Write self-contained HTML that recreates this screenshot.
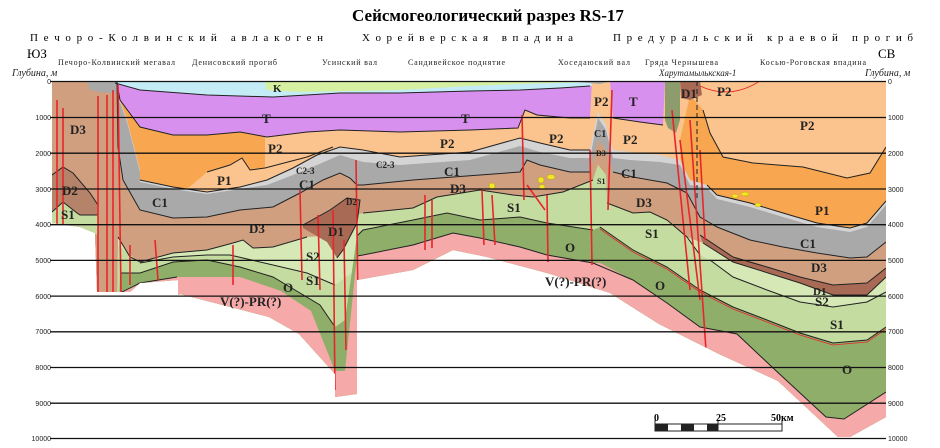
<!DOCTYPE html>
<html><head><meta charset="utf-8"><style>
html,body{margin:0;padding:0;background:#fff}
svg{display:block}
.s{font-family:"Liberation Serif",serif}
.lb{font-family:"Liberation Serif",serif;font-weight:bold;font-size:13px;fill:#222}
.tk{font-family:"Liberation Sans",sans-serif;font-size:7px;fill:#222}
.pre{white-space:pre}
</style></head><body>
<svg width="940" height="448" viewBox="0 0 940 448" xmlns="http://www.w3.org/2000/svg">
<defs>
<clipPath id="sec"><polygon points="52,81 886,81 886,417 850,437 838,437 778,381 719,354 659,324 610,293 547,273 487,257 453,250 413,270 357,280 357,394 335,397 335,374 299,334 269,317 180,294 178,295 178,280 140,283 130,292 97,292 95,233 80,227 52,223"/></clipPath>
</defs>
<text class="s" x="488" y="21" font-size="17" font-weight="bold" text-anchor="middle">Сейсмогеологический разрез RS-17</text>
<text class="s pre" x="30" y="41" font-size="11" textLength="293" lengthAdjust="spacing">П е ч о р о - К о л в и н с к и й   а в л а к о г е н</text>
<text class="s pre" x="362" y="41" font-size="11" textLength="211" lengthAdjust="spacing">Х о р е й в е р с к а я   в п а д и н а</text>
<text class="s pre" x="613" y="41" font-size="11" textLength="300" lengthAdjust="spacing">П р е д у р а л ь с к и й   к р а е в о й   п р о г и б</text>
<text class="s" x="27" y="58" font-size="13">ЮЗ</text>
<text class="s" x="878" y="58" font-size="13">СВ</text>
<g class="s" font-size="8" fill="#222">
<text x="58" y="65" textLength="117">Печоро-Колвинский мегавал</text>
<text x="192" y="65" textLength="85">Денисовский прогиб</text>
<text x="322" y="65" textLength="55">Усинский вал</text>
<text x="408" y="65" textLength="97">Сандивейское поднятие</text>
<text x="558" y="65" textLength="72">Хоседаюский вал</text>
<text x="645" y="65" textLength="73">Гряда Чернышева</text>
<text x="760" y="65" textLength="106">Косью-Роговская впадина</text>
<text x="12" y="76" font-style="italic" font-size="10">Глубина, м</text>
<text x="865" y="76" font-style="italic" font-size="10">Глубина, м</text>
<text x="659" y="76" font-style="italic" font-size="9">Харутамылькская-1</text>
</g>
<g clip-path="url(#sec)">
<rect x="52" y="81" width="834" height="367" fill="#d4f0a0"/>
<polygon fill="#c4ecf7" points="52,81 265,81 266,90 300,92 400,90 470,86 520,84 590,82 886,81 886,448 52,448"/>
<polygon fill="#d890ee" points="52,81 115,83 140,90 207,95 273,97 340,93 400,93 470,91 520,90 560,88 590,86 612,81 886,81 886,448 52,448"/>
<polygon fill="#fbc38d" points="52,81 117,83 120,100 140,127 173,135 207,135 240,132 267,137 307,132 340,130 400,132 470,130 518,128 525,110 537,115 570,118 590,118 592,81 610,81 613,118 640,122 663,125 665,81 886,81 886,448 52,448"/>
<polygon fill="#f8a750" points="120,100 140,127 173,135 207,135 240,132 265,136 265,168 250,170 242,158 230,165 207,172 180,195 140,195"/>
<polygon fill="#f8a750" points="690,95 703,110 710,133 723,157 753,163 803,167 847,178 870,173 886,147 886,448 690,448 680,140"/>
<polygon fill="#d4d4d4" points="52,81 120,100 127,120 140,170 140,180 173,187 207,192 240,187 267,180 293,168 317,155 340,147 363,150 400,157 470,152 520,138 540,143 570,150 590,150 598,112 606,125 613,150 630,152 660,155 680,160 690,180 707,185 717,195 750,203 783,213 817,223 850,228 867,223 886,201 886,448 52,448"/>
<polygon fill="#a9a9a9" points="52,81 120,102 127,122 140,172 140,182 173,189 207,194 240,189 267,185 293,175 317,165 340,155 363,162 400,165 470,160 520,146 540,152 570,158 590,158 598,118 606,130 613,158 630,160 660,162 680,165 690,185 707,188 717,199 750,207 783,217 817,227 850,232 867,227 886,205 886,448 52,448"/>
<polygon fill="#cf9f80" points="52,81 117,81 118,147 123,180 140,210 173,218 207,217 240,210 273,207 300,193 323,180 340,173 350,178 357,185 363,185 413,180 480,175 520,172 527,160 540,165 570,172 590,172 598,140 606,150 613,172 633,177 667,183 687,193 700,217 717,227 750,240 783,247 817,253 850,258 867,257 886,242 886,448 52,448"/>
<polygon fill="#a9a9a9" points="87,81 117,81 116,93 100,92 90,90"/>
<polygon fill="#d5e8b5" points="52,400 116,400 118,237 130,257 140,262 173,253 207,250 233,243 243,240 253,248 273,247 307,237 335,235 357,215 363,213 413,208 437,197 480,190 513,195 533,197 563,192 593,180 598,165 606,175 607,203 633,213 650,212 667,220 687,237 703,243 733,262 800,283 833,295 867,295 886,277 886,448 52,448"/>
<polygon fill="#c5dca0" points="52,400 116,400 118,245 140,263 173,257 207,255 230,255 273,265 307,273 335,285 356,270 357,215 363,213 413,208 437,197 480,190 513,195 533,197 563,192 593,180 598,165 606,175 607,203 633,213 650,212 667,220 687,237 700,255 710,260 733,277 767,290 800,302 833,307 867,302 886,292 886,448 52,448"/>
<polygon fill="#8fae6a" points="52,400 116,400 120,273 140,273 173,262 207,260 240,267 273,277 300,293 320,305 335,327 345,320 357,236 363,230 413,220 447,213 480,220 520,217 547,223 593,230 600,227 633,250 667,267 700,290 733,307 767,320 800,333 833,343 867,340 886,327 886,448 52,448"/>
<polygon fill="#f5aaa9" points="52,400 116,400 120,293 140,283 177,277 240,277 281,291 311,311 335,371 345,371 357,256 363,255 413,245 453,233 480,238 520,247 547,255 593,263 600,263 633,280 667,303 700,327 737,334 772,367 826,417 844,419 886,392 886,448 52,448"/>
<polygon fill="#b5826a" points="52,175 63,167 73,173 90,193 98,205 98,215 80,215 77,213 63,202 52,212"/>
<polygon fill="#c5dca0" points="52,212 63,202 77,213 80,215 98,215 98,235 80,227 52,223"/>
<polygon fill="#a86a55" points="303,225 330,210 347,198 360,200 357,223 343,250 337,258 327,242 303,228"/>
<polygon fill="#a86a55" points="700,235 733,257 767,267 800,277 833,285 867,283 886,268 886,277 867,295 833,295 800,283 733,262 703,243"/>
<polygon fill="#8c9c6c" points="665,81 680,81 680,120 676,133 668,128 665,120"/>
<polygon fill="#a86a55" points="680,81 700,81 702,95 690,100 681,98"/>
<polygon fill="#a9a9a9" points="565,81 612,81 600,84"/>
<g fill="none" stroke="#222" stroke-width="1">
<polyline points="115,83 140,90 207,95 273,97 340,93 400,93 470,91 520,90 560,88 590,86"/>
<polyline points="117,83 120,100 140,127 173,135 207,135 240,132 267,137 307,132 340,130 400,132 470,130 518,128 525,110 537,115 570,118 590,118"/>
<polyline points="613,118 640,122 663,125"/>
<polyline points="703,110 710,133 723,157 753,163 803,167 847,178 870,173 886,147"/>
<polyline points="140,180 173,187 207,192 240,187 267,180 293,168 317,155 340,147 363,150 400,157 470,152 520,138 540,143 570,150 590,150"/>
<polyline points="207,172 230,165 242,158 250,170 265,168 307,157 333,147"/>
<polyline points="707,185 717,195 750,203 783,213 817,223 850,228 867,223 886,201"/>
<polyline points="117,81 118,147 123,180 140,210 173,218 207,217 240,210 273,207 300,193 323,180 340,173 350,178 357,185 363,185 413,180 480,175 520,172 527,160 540,165 570,172 590,172"/>
<polyline points="613,172 633,177 667,183 687,193 700,217 717,227 750,240 783,247 817,253 850,258 867,257 886,242"/>
<polyline points="52,175 63,167 73,173 90,193 98,205"/>
<polyline points="52,212 63,202 77,213 80,215 98,215"/>
<polyline points="118,237 130,257 140,262 173,253 207,250 233,243 243,240 253,248 273,247 307,237"/>
<polyline points="363,213 413,208 437,197 480,190 513,195 533,197 563,192 593,180"/>
<polyline points="607,203 633,213 650,212 667,220 687,237 700,255"/>
<polyline points="700,235 733,257 767,267 800,277 833,285 867,283 886,268"/>
<polyline points="703,243 733,262 800,283 833,295 867,295 886,277"/>
<polyline points="710,260 733,277 767,290 800,302 833,307 867,302 886,292"/>
<polyline points="140,263 173,257 207,255 230,255 273,265 307,273 335,285"/>
<polyline points="120,273 140,273 173,262 207,260 240,267 273,277 300,293 320,305 335,327"/>
<polyline points="357,236 363,230 413,220 447,213 480,220 520,217 547,223 593,230"/>
<polyline points="600,227 633,250 667,267 700,290 733,307 767,320 800,333 833,343 867,340 886,327"/>
<polyline points="120,293 140,283 177,277"/>
<polyline points="357,256 363,255 413,245 453,233 480,238 520,247 547,255 593,263 633,280 667,303 700,327 737,334 772,367 826,417 844,419 886,392"/>
<polyline points="303,225 330,210 347,198 360,200 357,223 343,250 337,258"/>
</g>
<g stroke="#e8262a" stroke-width="1.6" fill="none">
<line x1="57" y1="100" x2="57" y2="230"/><line x1="63" y1="108" x2="63" y2="230"/>
<line x1="98" y1="96" x2="98" y2="293"/><line x1="107" y1="95" x2="107" y2="293"/><line x1="113" y1="90" x2="113" y2="293"/><line x1="118" y1="85" x2="121" y2="293"/>
<line x1="130" y1="245" x2="130" y2="285"/><line x1="155" y1="240" x2="158" y2="280"/><line x1="233" y1="245" x2="233" y2="285"/><line x1="300" y1="190" x2="302" y2="280"/><line x1="318" y1="215" x2="320" y2="290"/><line x1="333" y1="210" x2="335" y2="390"/><line x1="344" y1="240" x2="346" y2="350"/><line x1="356" y1="160" x2="358" y2="300"/>
<line x1="425" y1="195" x2="425" y2="250"/><line x1="432" y1="200" x2="432" y2="248"/><line x1="482" y1="190" x2="484" y2="245"/><line x1="492" y1="195" x2="495" y2="245"/><line x1="522" y1="115" x2="524" y2="200"/><line x1="527" y1="185" x2="545" y2="210"/><line x1="547" y1="195" x2="548" y2="262"/><line x1="590" y1="150" x2="592" y2="265"/><line x1="612" y1="90" x2="608" y2="210"/>
<line x1="672" y1="110" x2="690" y2="290"/><line x1="680" y1="140" x2="700" y2="300"/><line x1="690" y1="120" x2="706" y2="350"/><line x1="700" y1="150" x2="705" y2="240"/>
</g>
<g stroke="#e8262a" stroke-width="0.8" fill="none">
<polyline points="600,229 633,252 667,269 700,292 733,309 767,322 800,335 833,345 867,342 886,329"/>
<path d="M700,86 Q730,100 760,81"/>
</g>
<g fill="#f2e62a" stroke="#b8a000" stroke-width="0.5">
<ellipse cx="492" cy="186" rx="3" ry="3"/><ellipse cx="541" cy="180" rx="3" ry="3"/><ellipse cx="542" cy="187" rx="3" ry="2.5"/><ellipse cx="551" cy="177" rx="4" ry="2.5"/>
<ellipse cx="735" cy="196" rx="3" ry="2"/><ellipse cx="745" cy="194" rx="4" ry="2"/><ellipse cx="758" cy="205" rx="3" ry="2"/>
</g>
</g>
<line x1="697" y1="81" x2="697" y2="200" stroke="#222" stroke-width="1" stroke-dasharray="5,3"/>
<g stroke="#111" stroke-width="1.3">
<line x1="50" y1="81.5" x2="886" y2="81.5"/>
<line x1="50" y1="117.5" x2="886" y2="117.5"/><line x1="50" y1="153.2" x2="886" y2="153.2"/><line x1="50" y1="189" x2="886" y2="189"/><line x1="50" y1="224.7" x2="886" y2="224.7"/><line x1="50" y1="260.4" x2="886" y2="260.4"/><line x1="50" y1="296.1" x2="886" y2="296.1"/><line x1="50" y1="331.8" x2="886" y2="331.8"/><line x1="50" y1="367.5" x2="886" y2="367.5"/><line x1="50" y1="403.2" x2="886" y2="403.2"/><line x1="50" y1="438.5" x2="886" y2="438.5"/>
</g>
<g class="tk" text-anchor="end">
<text x="51" y="84">0</text><text x="51" y="120">1000</text><text x="51" y="156">2000</text><text x="51" y="192">3000</text><text x="51" y="227">4000</text><text x="51" y="263">5000</text><text x="51" y="299">6000</text><text x="51" y="334">7000</text><text x="51" y="370">8000</text><text x="51" y="406">9000</text><text x="51" y="441">10000</text>
</g>
<g class="tk">
<text x="888" y="84">0</text><text x="888" y="120">1000</text><text x="888" y="156">2000</text><text x="888" y="192">3000</text><text x="888" y="227">4000</text><text x="888" y="263">5000</text><text x="888" y="299">6000</text><text x="888" y="334">7000</text><text x="888" y="370">8000</text><text x="888" y="406">9000</text><text x="888" y="441">10000</text>
</g>
<g class="lb">
<text x="70" y="134">D3</text><text x="62" y="195">D2</text><text x="61" y="219">S1</text>
<text x="262" y="123">T</text><text x="273" y="92" font-size="11">K</text><text x="268" y="153">P2</text><text x="217" y="185">P1</text>
<text x="296" y="174" font-size="9">C2-3</text><text x="299" y="189">C1</text><text x="152" y="207">C1</text><text x="249" y="233">D3</text>
<text x="328" y="236">D1</text><text x="346" y="205" font-size="9">D2</text><text x="306" y="261">S2</text><text x="306" y="285">S1</text><text x="283" y="292">O</text>
<text x="220" y="306">V(?)-PR(?)</text>
<text x="461" y="123">T</text><text x="440" y="148">P2</text><text x="376" y="168" font-size="9">C2-3</text><text x="444" y="176">C1</text><text x="450" y="193">D3</text><text x="507" y="212">S1</text><text x="565" y="252">O</text><text x="545" y="286">V(?)-PR(?)</text>
<text x="549" y="143">P2</text><text x="594" y="106">P2</text><text x="629" y="106">T</text><text x="594" y="137" font-size="10">C1</text><text x="596" y="156" font-size="8">D3</text><text x="597" y="184" font-size="8">S1</text>
<text x="623" y="144">P2</text><text x="621" y="178">C1</text><text x="636" y="207">D3</text><text x="645" y="238">S1</text><text x="655" y="290">O</text>
<text x="681" y="98">D1</text><text x="717" y="96">P2</text><text x="800" y="130">P2</text><text x="815" y="215">P1</text><text x="800" y="248">C1</text><text x="811" y="272">D3</text><text x="813" y="295" font-size="11">D1</text><text x="815" y="306">S2</text><text x="830" y="329">S1</text><text x="842" y="374">O</text>
</g>
<g>
<rect x="655" y="424" width="127" height="7" fill="#fff" stroke="#222" stroke-width="1"/>
<rect x="655" y="424" width="13" height="7" fill="#222"/><rect x="681" y="424" width="13" height="7" fill="#222"/><rect x="707" y="424" width="11" height="7" fill="#222"/>
<line x1="655" y1="420" x2="655" y2="431" stroke="#222"/><line x1="718" y1="420" x2="718" y2="431" stroke="#222"/><line x1="782" y1="420" x2="782" y2="431" stroke="#222"/>
<text class="s" x="654" y="421" font-size="10" font-weight="bold">0</text>
<text class="s" x="716" y="421" font-size="10" font-weight="bold">25</text>
<text class="s" x="771" y="421" font-size="10" font-weight="bold">50км</text>
</g>
</svg>
</body></html>
